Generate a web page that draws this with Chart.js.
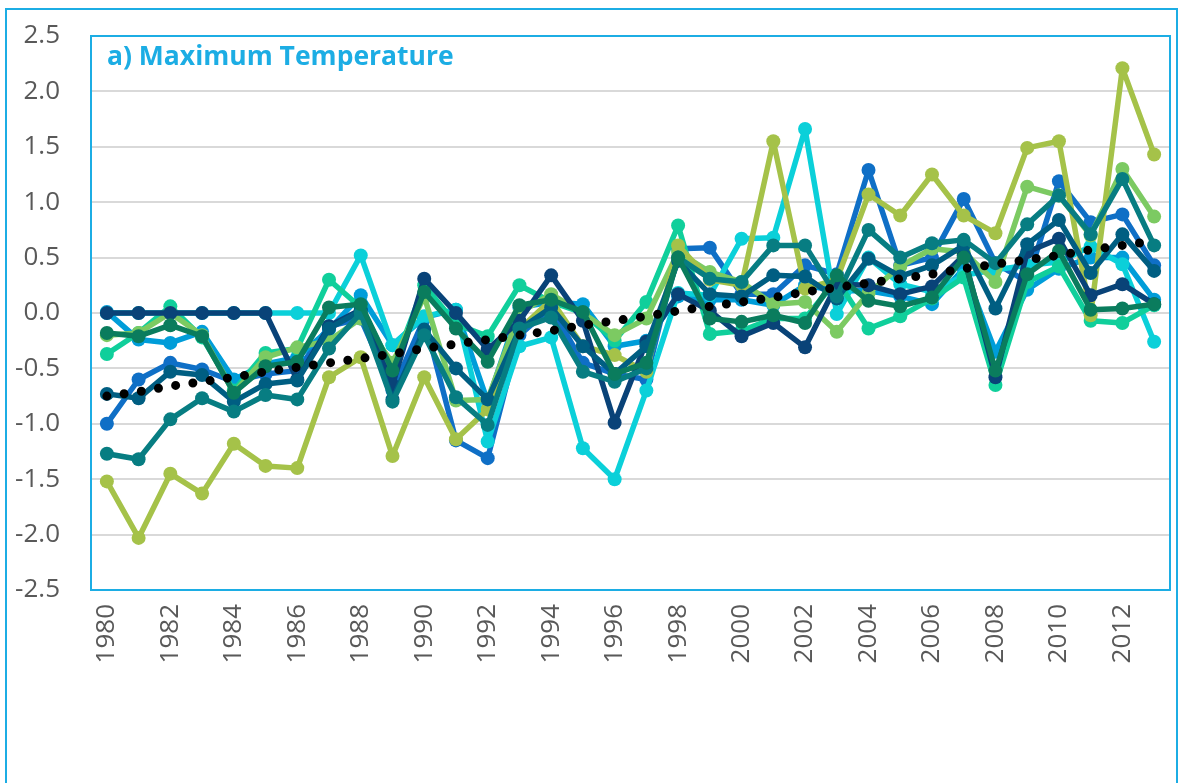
<!DOCTYPE html>
<html>
<head>
  <meta http-equiv="Content-type" content="text/html; charset=utf-8">
  <title>a) Maximum Temperature</title>
  <style>
    html, body { margin: 0; padding: 0; background: #fff; }
    #wrap { position: absolute; left: 0; top: 0; width: 1182px; height: 783px; }
  </style>
</head>
<body>
  <div id="wrap">
    <canvas id="canvas" width="1182" height="783"></canvas>
  </div>

  <script src="https://cdn.jsdelivr.net/npm/chart.js"></script>

  <script>
    // anni
    const years = ['1980','1981','1982','1983','1984','1985','1986','1987','1988','1989',
                   '1990','1991','1992','1993','1994','1995','1996','1997','1998','1999',
                   '2000','2001','2002','2003','2004','2005','2006','2007','2008','2009',
                   '2010','2011','2012','2013'];

    const yTicks = [-2.5, -2.0, -1.5, -1.0, -0.5, 0.0, 0.5, 1.0, 1.5, 2.0, 2.5];

    // serie (anomalie)
    const medBlue = [-1.00,-0.60,-0.45,-0.51,-0.62,-0.55,-0.52,-0.12,-0.05,-0.70,-0.05,-1.15,-1.31,-0.20,0.05,-0.45,-0.55,-0.60,0.58,0.59,0.17,0.17,0.43,0.35,1.29,0.43,0.50,1.03,0.45,0.28,1.19,0.82,0.89,0.43];
    const skyBlue = [0.01,-0.24,-0.27,-0.17,-0.60,-0.46,-0.40,-0.15,0.16,-0.29,-0.04,0.03,-0.80,0.05,0.10,0.08,-0.30,-0.25,0.15,0.12,0.12,0.07,0.25,0.20,0.20,0.15,0.08,0.40,-0.35,0.21,0.40,0.50,0.50,0.12];
    const cyan = [0.00,0.00,0.00,0.00,0.00,0.00,0.00,0.00,0.52,-0.29,-0.03,0.03,-1.16,-0.30,-0.22,-1.22,-1.50,-0.70,0.18,0.16,0.67,0.68,1.66,-0.01,0.50,0.26,0.19,0.34,0.39,0.43,0.46,0.60,0.44,-0.26];
    const turquoise = [-0.37,-0.18,0.06,-0.22,-0.70,-0.36,-0.32,0.30,0.05,-0.50,0.25,-0.10,-0.21,0.25,0.10,0.00,-0.25,0.10,0.79,-0.19,-0.16,-0.05,-0.05,0.30,-0.14,-0.03,0.13,0.32,-0.65,0.28,0.42,-0.07,-0.09,0.07];
    const lightGreen = [-0.20,-0.18,0.00,-0.20,-0.72,-0.40,-0.31,-0.25,-0.05,-0.45,0.15,-0.79,-0.78,0.00,0.17,0.00,-0.20,-0.05,0.55,0.37,0.28,0.08,0.10,-0.17,0.18,0.42,0.58,0.55,0.28,1.14,1.06,0.70,1.30,0.87];
    const yellowGreen = [-1.52,-2.03,-1.45,-1.63,-1.18,-1.38,-1.40,-0.58,-0.40,-1.29,-0.58,-1.14,-0.87,-0.15,0.12,-0.30,-0.38,-0.53,0.61,0.30,0.25,1.55,0.22,0.30,1.07,0.88,1.25,0.88,0.72,1.49,1.55,-0.02,2.21,1.43];
    const navy = [0.00,0.00,0.00,0.00,0.00,0.00,-0.60,-0.12,0.03,-0.65,0.31,0.00,-0.33,-0.07,0.34,-0.07,-0.99,-0.26,0.17,0.02,-0.21,-0.09,-0.31,0.26,0.25,0.17,0.24,0.52,-0.58,0.55,0.67,0.16,0.26,0.08];
    const petrol = [-0.73,-0.77,-0.53,-0.56,-0.80,-0.64,-0.61,-0.14,0.02,-0.78,-0.15,-0.50,-0.78,-0.15,0.05,-0.30,-0.55,-0.30,0.47,0.17,0.15,0.34,0.33,0.13,0.49,0.33,0.43,0.61,0.04,0.62,0.84,0.36,0.71,0.38];
    const teal = [-1.27,-1.32,-0.96,-0.77,-0.89,-0.74,-0.78,-0.32,0.00,-0.80,-0.20,-0.76,-1.01,-0.14,-0.04,-0.53,-0.62,-0.50,0.50,0.31,0.28,0.61,0.61,0.15,0.75,0.50,0.63,0.66,0.45,0.80,1.06,0.71,1.21,0.61];
    const darkGreen = [-0.18,-0.21,-0.11,-0.21,-0.72,-0.48,-0.44,0.05,0.08,-0.52,0.19,-0.14,-0.44,0.07,0.12,0.01,-0.55,-0.45,0.50,-0.05,-0.08,-0.02,-0.09,0.34,0.11,0.06,0.14,0.50,-0.52,0.35,0.56,0.03,0.04,0.08];
    // linea di tendenza (puntinata)
    const trend = [-0.75,-0.71,-0.66,-0.62,-0.58,-0.53,-0.49,-0.45,-0.41,-0.37,-0.32,-0.28,-0.24,-0.20,-0.16,-0.11,-0.07,-0.03,0.02,0.06,0.10,0.14,0.19,0.23,0.27,0.31,0.35,0.40,0.44,0.48,0.52,0.57,0.61,0.65];

    const seriesList = [
      { data: medBlue,     color: '#0F6FC6' },
      { data: skyBlue,     color: '#009DD9' },
      { data: cyan,        color: '#0BD0D9' },
      { data: turquoise,   color: '#10CF9B' },
      { data: lightGreen,  color: '#7CCA62' },
      { data: yellowGreen, color: '#A5C249' },
      { data: navy,        color: '#094378' },
      { data: petrol,      color: '#005E82' },
      { data: teal,        color: '#077D82' },
      { data: darkGreen,   color: '#0A7C5D' }
    ];

    const frameColor = '#1CADE4';
    const fontFamily = '"Open Sans", "Noto Sans", sans-serif';

    const datasets = seriesList.map((s, i) => ({
      data: s.data,
      borderColor: s.color,
      backgroundColor: s.color,
      borderWidth: 5.5,
      borderJoinStyle: 'round',
      borderCapStyle: 'round',
      pointRadius: 7,
      pointHoverRadius: 7,
      pointBorderWidth: 0,
      tension: 0,
      fill: false,
      order: seriesList.length - i   // l'ultima serie sopra, come in Excel
    }));

    datasets.push({
      data: trend,
      borderColor: '#000000',
      borderWidth: 9,
      borderDash: [0, 17.4],
      borderCapStyle: 'round',
      pointRadius: 0,
      fill: false,
      order: 0
    });

    // cornici e titolo dentro l'area del grafico
    const framePlugin = {
      id: 'frames',
      afterDraw(chart) {
        const { ctx, chartArea: a } = chart;
        ctx.save();
        ctx.strokeStyle = frameColor;
        ctx.lineWidth = 2;
        ctx.strokeRect(a.left, a.top, a.right - a.left, a.bottom - a.top);
        ctx.strokeRect(6, 9, 1171, 790);
        ctx.fillStyle = frameColor;
        ctx.font = 'bold 26.5px ' + fontFamily;
        ctx.textBaseline = 'middle';
        ctx.fillText('a) Maximum Temperature', a.left + 16, a.top + 21);
        ctx.restore();
      }
    };

    const ctx = document.getElementById('canvas').getContext('2d');

    const chart = new Chart(ctx, {
      type: 'line',
      data: { labels: years, datasets: datasets },
      plugins: [framePlugin],
      options: {
        responsive: false,
        animation: false,
        devicePixelRatio: 1,
        layout: { padding: { top: 36, right: 12, left: 0, bottom: 0 } },
        plugins: {
          legend: { display: false },
          title: { display: false },
          tooltip: { enabled: false }
        },
        scales: {
          x: {
            offset: true,
            grid: { display: false, drawTicks: false },
            border: { display: false },
            ticks: {
              autoSkip: false,
              minRotation: 90,
              maxRotation: 90,
              padding: 14,
              color: '#595959',
              font: { family: fontFamily, size: 26 },
              callback: function(value, index) {
                return index % 2 === 0 ? years[index] : '';
              }
            },
            afterFit: function(scale) {
              scale.height = 193;
              scale.paddingLeft = 0;
              scale.paddingRight = 0;
            }
          },
          y: {
            min: yTicks[0],
            max: yTicks[yTicks.length - 1],
            afterBuildTicks: function(scale) {
              scale.ticks = yTicks.map(v => ({ value: v }));
            },
            grid: { color: '#D9D9D9', lineWidth: 2, drawTicks: false },
            border: { display: false },
            ticks: {
              padding: 31,
              color: '#595959',
              font: { family: fontFamily, size: 26 },
              callback: function(value) { return value.toFixed(1); }
            },
            afterFit: function(scale) {
              scale.width = 91;
              scale.paddingTop = 0;
              scale.paddingBottom = 0;
            }
          }
        }
      }
    });
  </script>
</body>
</html>
